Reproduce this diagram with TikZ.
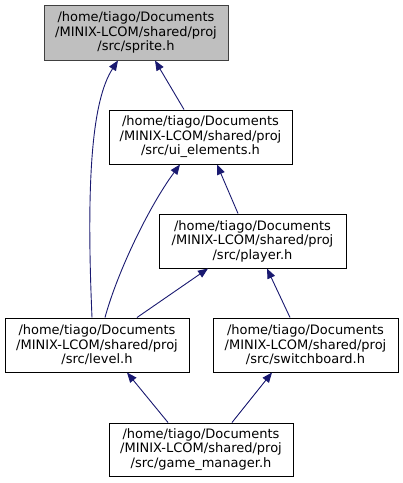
\documentclass[tikz,border=0pt]{standalone}
\usepackage{fontspec}
\setmainfont{DejaVu Sans}
\usetikzlibrary{arrows.meta}
\definecolor{edgeblue}{HTML}{191970}
\tikzset{
  filebox/.style={draw=black, line width=1pt, fill=white, rectangle, align=center, inner sep=0pt,
    font=\fontsize{13}{14.5}\selectfont},
  dep/.style={draw=edgeblue, line width=0.9pt, {Triangle[length=10pt,width=8pt,fill=edgeblue]}-}
}
\begin{document}
\begin{tikzpicture}[x=1pt,y=-1pt]
\useasboundingbox (0,0) rectangle (403,483);
\node[filebox, fill={rgb,255:red,191;green,191;blue,191}, draw={rgb,255:red,64;green,64;blue,64}, minimum width=184pt, minimum height=55pt] (sprite) at (136,32.5) {/home/tiago/Documents\\/MINIX-LCOM/shared/proj\\/src/sprite.h};
\node[filebox, minimum width=183pt, minimum height=54pt] (ui) at (200.5,137) {/home/tiago/Documents\\/MINIX-LCOM/shared/proj\\/src/ui\_elements.h};
\node[filebox, minimum width=187pt, minimum height=54pt] (player) at (252.5,241) {/home/tiago/Documents\\/MINIX-LCOM/shared/proj\\/src/player.h};
\node[filebox, minimum width=184pt, minimum height=54pt] (level) at (97,345) {/home/tiago/Documents\\/MINIX-LCOM/shared/proj\\/src/level.h};
\node[filebox, minimum width=185pt, minimum height=54pt] (switch) at (305.5,345) {/home/tiago/Documents\\/MINIX-LCOM/shared/proj\\/src/switchboard.h};
\node[filebox, minimum width=184pt, minimum height=53pt] (gm) at (201,449.5) {/home/tiago/Documents\\/MINIX-LCOM/shared/proj\\/src/game\_manager.h};

\draw[dep] ([xshift=19pt]sprite.south) -- ([xshift=-16.5pt]ui.north);
\draw[dep] ([xshift=-18pt]sprite.south) .. controls (92,100) and (86,180) .. ([xshift=-5pt]level.north);
\draw[dep] ([xshift=16.5pt]ui.south) -- ([xshift=-14.5pt]player.north);
\draw[dep] ([xshift=-20.5pt]ui.south) .. controls (150,205) and (118,270) .. ([xshift=8pt]level.north);
\draw[dep] ([xshift=-44.5pt]player.south) -- ([xshift=40pt]level.north);
\draw[dep] ([xshift=14.5pt]player.south) -- ([xshift=-15.5pt]switch.north);
\draw[dep] ([xshift=30pt]level.south) -- ([xshift=-33pt]gm.north);
\draw[dep] ([xshift=-33.5pt]switch.south) -- ([xshift=31pt]gm.north);
\end{tikzpicture}
\end{document}
